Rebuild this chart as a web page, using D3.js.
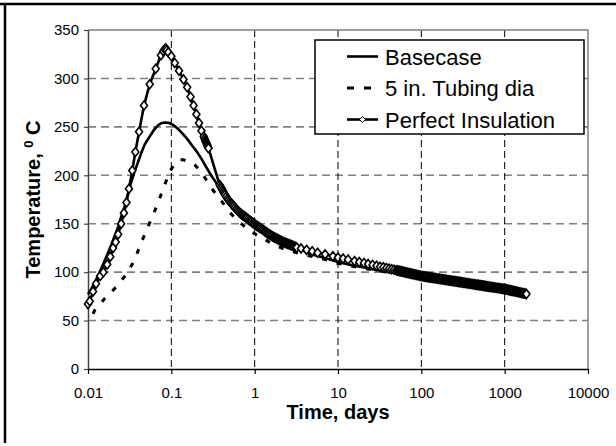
<!DOCTYPE html>
<html>
<head>
<meta charset="utf-8">
<script src="https://cdn.jsdelivr.net/npm/d3@7"></script>
<style>
  body { margin: 0; background: #fff; overflow: hidden; }
  svg { display: block; font-family: Arial, "Liberation Sans", sans-serif; }
</style>
</head>
<body>
<div id="chart"></div>
<script>
// tick values and legend names
const xTicks = [0.01, 0.1, 1, 10, 100, 1000, 10000];
const yTicks = [0, 50, 100, 150, 200, 250, 300, 350];
const seriesNames = ['Basecase', '5 in. Tubing dia', 'Perfect Insulation'];

// Basecase (solid)
const baseTime = [0.01, 0.011, 0.012, 0.0133, 0.015, 0.017, 0.019, 0.021, 0.023, 0.025, 0.0275, 0.03,
  0.033, 0.036, 0.04, 0.044, 0.048, 0.055, 0.062, 0.07, 0.077, 0.085, 0.095, 0.105, 0.12, 0.14, 0.16,
  0.18, 0.2, 0.23, 0.26, 0.3, 0.34, 0.38, 0.42, 0.46, 0.5, 0.6, 0.7, 0.8, 1, 1.3, 1.7, 2.2, 3, 4, 5,
  7, 10, 15, 20, 30, 50, 100, 200, 500, 1000, 1500, 1800];
const baseTemp = [77, 83, 89, 97, 107, 118, 128, 138, 147, 157, 168, 180,
  193, 203, 214, 224, 232, 240, 247, 252, 254, 254.5, 254, 252, 248, 242, 236,
  230, 225, 217, 209, 200, 193, 187, 182, 177, 173, 165, 159, 155, 148.5, 142, 136, 131, 126, 121.5, 118,
  114.5, 110.5, 107, 105, 102, 99, 95, 91, 86, 82.5, 80, 78];

// 5 in. tubing diameter (dashed)
const tubingTime = [0.0115, 0.0121, 0.016, 0.022, 0.029, 0.036, 0.042, 0.05, 0.06, 0.07, 0.08, 0.096,
  0.11, 0.127, 0.14, 0.16, 0.19, 0.22, 0.25, 0.29, 0.32, 0.37, 0.42, 0.48, 0.55, 0.65, 0.76, 0.9, 1.1,
  1.4, 1.7, 2.4, 3.5, 5, 7, 10, 15, 20, 30, 50, 100, 200, 500, 1000, 1500, 1800];
const tubingTemp = [57, 61, 73, 85, 98, 112, 127, 143, 158, 173, 186, 204,
  212, 216, 216, 214, 211, 205, 198, 190, 184, 177, 171, 164, 158, 152, 147, 142, 137.5,
  132.5, 128, 123, 119, 116, 113, 109, 106, 104, 101.5, 98.5, 94.5, 90.5, 85.5, 82, 79.5, 77.5];

// Perfect insulation (solid with diamonds), early rise and peak
const insulTimeEarly = [0.01, 0.0105, 0.0115, 0.0125, 0.014, 0.0153, 0.017, 0.0185, 0.02, 0.0215, 0.023,
  0.025, 0.027, 0.029, 0.031, 0.034, 0.037, 0.041, 0.047, 0.055, 0.065, 0.075, 0.08, 0.083, 0.086,
  0.088, 0.092, 0.1, 0.11, 0.1236, 0.14, 0.155, 0.17, 0.185, 0.2, 0.215, 0.23, 0.245, 0.25, 0.255,
  0.258, 0.261, 0.264, 0.267, 0.27, 0.273, 0.276, 0.279];
const insulTempEarly = [67, 70, 80, 88, 96, 100, 108, 116, 125, 131, 139,
  150, 161, 172, 186, 205, 224, 245, 272, 294, 310, 324, 328, 330, 331,
  329, 327, 323, 316, 308, 299, 291, 281, 272, 263, 254, 246, 240, 238, 236,
  235, 234, 233, 232, 231, 230, 229, 228];

// Perfect insulation, dense decline 0.38 - 3.2 days
const insulTimeMid = [0.38, 0.39, 0.4, 0.41, 0.42, 0.43, 0.44, 0.455, 0.47, 0.485, 0.5, 0.515, 0.53,
  0.545, 0.56, 0.58, 0.6, 0.62, 0.64, 0.66, 0.68, 0.7, 0.72, 0.74, 0.76, 0.78, 0.8, 0.83, 0.86, 0.89,
  0.92, 0.95, 0.98, 1.01, 1.04, 1.07, 1.1, 1.13, 1.16, 1.2, 1.24, 1.28, 1.32, 1.36, 1.4, 1.44, 1.48,
  1.53, 1.58, 1.63, 1.68, 1.73, 1.78, 1.83, 1.88, 1.94, 2, 2.06, 2.12, 2.18, 2.25, 2.32, 2.39, 2.46,
  2.53, 2.61, 2.69, 2.77, 2.85, 2.93, 3.02, 3.11, 3.2];
const insulTempMid = [190, 188.2, 186.5, 184.7, 183, 181.5, 180, 178, 176, 174.5, 173, 171.7, 170.5,
  169.2, 168, 166.7, 165.3, 164, 162.7, 161.5, 160.5, 159.6, 158.8, 158.1, 157.4, 156.6, 155.9, 154.8, 153.7, 152.8,
  151.9, 151, 150.1, 149.2, 148.5, 147.7, 147, 146.3, 145.7, 144.8, 144, 143.2, 142.3, 141.6, 140.7, 140, 139.3,
  138.5, 137.8, 137, 136.3, 135.7, 135.2, 134.7, 134.2, 133.6, 133, 132.4, 131.8, 131.3, 130.8, 130.3, 129.9, 129.4,
  129, 128.5, 128.1, 127.7, 127.2, 126.8, 126.4, 126, 125.5];

// Perfect insulation, separate diamonds 3.6 - 47 days
const insulTimeLate = [3.6, 4.2, 4.9, 5.7, 7, 8.7, 10, 11.5, 13.2, 15.8, 18, 20.5, 23, 26, 29, 32, 35,
  38, 41, 44, 47];
const insulTempLate = [124.5, 123, 121.5, 120, 118.5, 116.5, 115, 114, 113, 111.5, 110.5, 109.5, 108.5,
  107.5, 106.5, 105.5, 105, 104.3, 103.6, 103, 102.4];

// Perfect insulation, dense tail 50 - 1825 days
const insulTimeTail = [50, 51.5, 53, 54.5, 56, 57.5, 59, 61, 63, 65, 67, 69, 71, 73, 75, 77, 79, 81.5,
  84, 86.5, 89, 91.5, 94, 97, 100, 103, 106, 109, 112, 115, 118, 122, 126, 130, 134, 138, 142, 146,
  150, 155, 160, 165, 170, 175, 180, 185, 190, 196, 202, 208, 214, 220, 227, 234, 241, 248, 255, 263,
  271, 279, 287, 295, 304, 313, 322, 331, 341, 351, 361, 372, 383, 394, 406, 418, 430, 443, 456, 469,
  483, 497, 512, 527, 542, 558, 574, 591, 608, 626, 644, 663, 682, 702, 722, 743, 765, 787, 810, 834,
  858, 883, 909, 936, 963, 991, 1020, 1050, 1080, 1112, 1144, 1177, 1211, 1246, 1282, 1320, 1358,
  1398, 1438, 1480, 1523, 1567, 1613, 1660, 1708, 1758, 1800, 1825];
const insulTempTail = [102, 101.7, 101.5, 101.3, 101, 100.8, 100.6, 100.3, 100, 99.7, 99.5, 99.2, 99,
  98.7, 98.5, 98.3, 98, 97.8, 97.5, 97.2, 97, 96.8, 96.5, 96.2, 96, 95.8, 95.7, 95.5, 95.3, 95.2, 95,
  94.8, 94.6, 94.5, 94.3, 94.1, 93.9, 93.8, 93.6, 93.4, 93.2, 93.1, 92.9, 92.7, 92.6, 92.4, 92.2, 92.1,
  91.9, 91.7, 91.5, 91.4, 91.2, 91, 90.8, 90.7, 90.5, 90.3, 90.2, 90, 89.8, 89.7, 89.5, 89.3, 89.1, 89,
  88.8, 88.6, 88.5, 88.3, 88.1, 88, 87.8, 87.6, 87.4, 87.3, 87.1, 86.9, 86.8, 86.6, 86.4, 86.3, 86.1,
  85.9, 85.8, 85.6, 85.4, 85.2, 85.1, 84.9, 84.7, 84.6, 84.4, 84.2, 84.1, 83.9, 83.7, 83.6, 83.4, 83.2,
  83.1, 82.9, 82.7, 82.6, 82.3, 82.1, 81.9, 81.6, 81.4, 81.2, 80.9, 80.7, 80.5, 80.2, 80, 79.7, 79.5,
  79.3, 79, 78.8, 78.5, 78.3, 78.1, 77.8, 77.6, 77.4];

const W = 616;
const H = 446;
const plot = { left: 88, right: 588, top: 30, bottom: 369 };

const svg = d3.select('#chart')
  .append('svg')
  .attr('width', W)
  .attr('height', H);

svg.append('rect').attr('width', W).attr('height', H).attr('fill', '#fff');

// outer frame (top and left edges only)
svg.append('line').attr('x1', 0).attr('x2', W).attr('y1', 4).attr('y2', 4)
  .attr('stroke', '#000').attr('stroke-width', 2.5);
svg.append('line').attr('x1', 5).attr('x2', 5).attr('y1', 3).attr('y2', 443)
  .attr('stroke', '#000').attr('stroke-width', 2.5);

const x = d3.scaleLog().domain([0.01, 10000]).range([plot.left, plot.right]);
const y = d3.scaleLinear().domain([0, 350]).range([plot.bottom, plot.top]);

const zip = (ts, vs) => ts.map((t, i) => ({ t, v: vs[i] }));
const baseData = zip(baseTime, baseTemp);
const tubingData = zip(tubingTime, tubingTemp);
const insulData = [
  ...zip(insulTimeEarly, insulTempEarly),
  ...zip(insulTimeMid, insulTempMid),
  ...zip(insulTimeLate, insulTempLate),
  ...zip(insulTimeTail, insulTempTail)
];

// grid
const grid = svg.append('g');
grid.selectAll('.hgrid')
  .data(yTicks.filter(d => d > 0 && d < 350))
  .enter()
  .append('line')
  .attr('x1', plot.left).attr('x2', plot.right)
  .attr('y1', d => y(d)).attr('y2', d => y(d))
  .attr('stroke', '#808080')
  .attr('stroke-width', 1.6)
  .attr('stroke-dasharray', '8,5');
grid.selectAll('.vgrid')
  .data(xTicks.filter(d => d > 0.01 && d < 10000))
  .enter()
  .append('line')
  .attr('x1', d => x(d)).attr('x2', d => x(d))
  .attr('y1', plot.top).attr('y2', plot.bottom)
  .attr('stroke', '#000')
  .attr('stroke-width', 1)
  .attr('stroke-dasharray', '7,4');

// plot border top / right
svg.append('path')
  .attr('d', `M${plot.left},${plot.top}H${plot.right}V${plot.bottom}`)
  .attr('fill', 'none')
  .attr('stroke', '#808080')
  .attr('stroke-width', 1.5);

// axes
const fmt = d => (d < 1 ? String(d) : d3.format('d')(d));
const xAxis = svg.append('g')
  .attr('transform', `translate(0,${plot.bottom})`)
  .call(d3.axisBottom(x).tickValues(xTicks).tickFormat(fmt).tickSizeInner(5).tickSizeOuter(0).tickPadding(13));
xAxis.select('.domain').attr('stroke', '#000').attr('stroke-width', 1.5);
xAxis.selectAll('.tick line').attr('stroke', '#000').attr('stroke-width', 1.2);
xAxis.selectAll('text').attr('font-size', 15).attr('fill', '#000')
  .attr('font-family', 'Arial, "Liberation Sans", sans-serif');

const yAxis = svg.append('g')
  .attr('transform', `translate(${plot.left},0)`)
  .call(d3.axisLeft(y).tickValues(yTicks).tickSizeInner(4).tickSizeOuter(0).tickPadding(5));
yAxis.select('.domain').attr('stroke', '#444').attr('stroke-width', 1.5);
yAxis.selectAll('.tick line').attr('stroke', '#444').attr('stroke-width', 1.2);
yAxis.selectAll('text').attr('font-size', 15).attr('fill', '#000')
  .attr('font-family', 'Arial, "Liberation Sans", sans-serif');

// axis titles
svg.append('text')
  .attr('x', (plot.left + plot.right) / 2)
  .attr('y', 419)
  .attr('text-anchor', 'middle')
  .attr('font-size', 20)
  .attr('font-weight', 'bold')
  .text('Time, days');

const yTitle = svg.append('text')
  .attr('transform', `translate(40,${(plot.top + plot.bottom) / 2}) rotate(-90)`)
  .attr('text-anchor', 'middle')
  .attr('font-size', 20)
  .attr('font-weight', 'bold');
yTitle.append('tspan').text('Temperature, ');
yTitle.append('tspan').attr('font-size', 13).attr('dy', -7).text('0');
yTitle.append('tspan').attr('dy', 7).text(' C');

// series
const line = d3.line().x(d => x(d.t)).y(d => y(d.v));
const series = svg.append('g');

series.append('path')
  .datum(tubingData)
  .attr('d', line)
  .attr('fill', 'none')
  .attr('stroke', '#000')
  .attr('stroke-width', 3)
  .attr('stroke-dasharray', '5,10');

series.append('path')
  .datum(baseData)
  .attr('d', line)
  .attr('fill', 'none')
  .attr('stroke', '#000')
  .attr('stroke-width', 2.6);

series.append('path')
  .datum(insulData)
  .attr('d', line)
  .attr('fill', 'none')
  .attr('stroke', '#000')
  .attr('stroke-width', 2.6);

const diamond = (w, h) => `M0,${-h}L${w},0L0,${h}L${-w},0Z`;
series.selectAll('.marker')
  .data(insulData)
  .enter()
  .append('path')
  .attr('transform', d => `translate(${x(d.t)},${y(d.v)})`)
  .attr('d', diamond(3.5, 4.5))
  .attr('fill', '#fff')
  .attr('stroke', '#000')
  .attr('stroke-width', 1.6);

// legend
const legend = svg.append('g').attr('transform', 'translate(315,40)');
legend.append('rect')
  .attr('width', 269)
  .attr('height', 94)
  .attr('fill', '#fff')
  .attr('stroke', '#000')
  .attr('stroke-width', 1.5);

const rows = legend.selectAll('.row')
  .data(seriesNames)
  .enter()
  .append('g')
  .attr('transform', (d, i) => `translate(0,${16.5 + i * 31.5})`);
rows.append('line')
  .attr('x1', 32).attr('x2', 63)
  .attr('stroke', '#000')
  .attr('stroke-width', (d, i) => (i === 1 ? 3 : 2.6))
  .attr('stroke-dasharray', (d, i) => (i === 1 ? '7,10' : null));
rows.filter((d, i) => i === 2)
  .append('path')
  .attr('transform', 'translate(47.5,0)')
  .attr('d', diamond(3, 3))
  .attr('fill', '#fff')
  .attr('stroke', '#000')
  .attr('stroke-width', 1);
rows.append('text')
  .attr('x', 70)
  .attr('y', 8)
  .attr('font-size', 22)
  .text(d => d);
</script>
</body>
</html>
